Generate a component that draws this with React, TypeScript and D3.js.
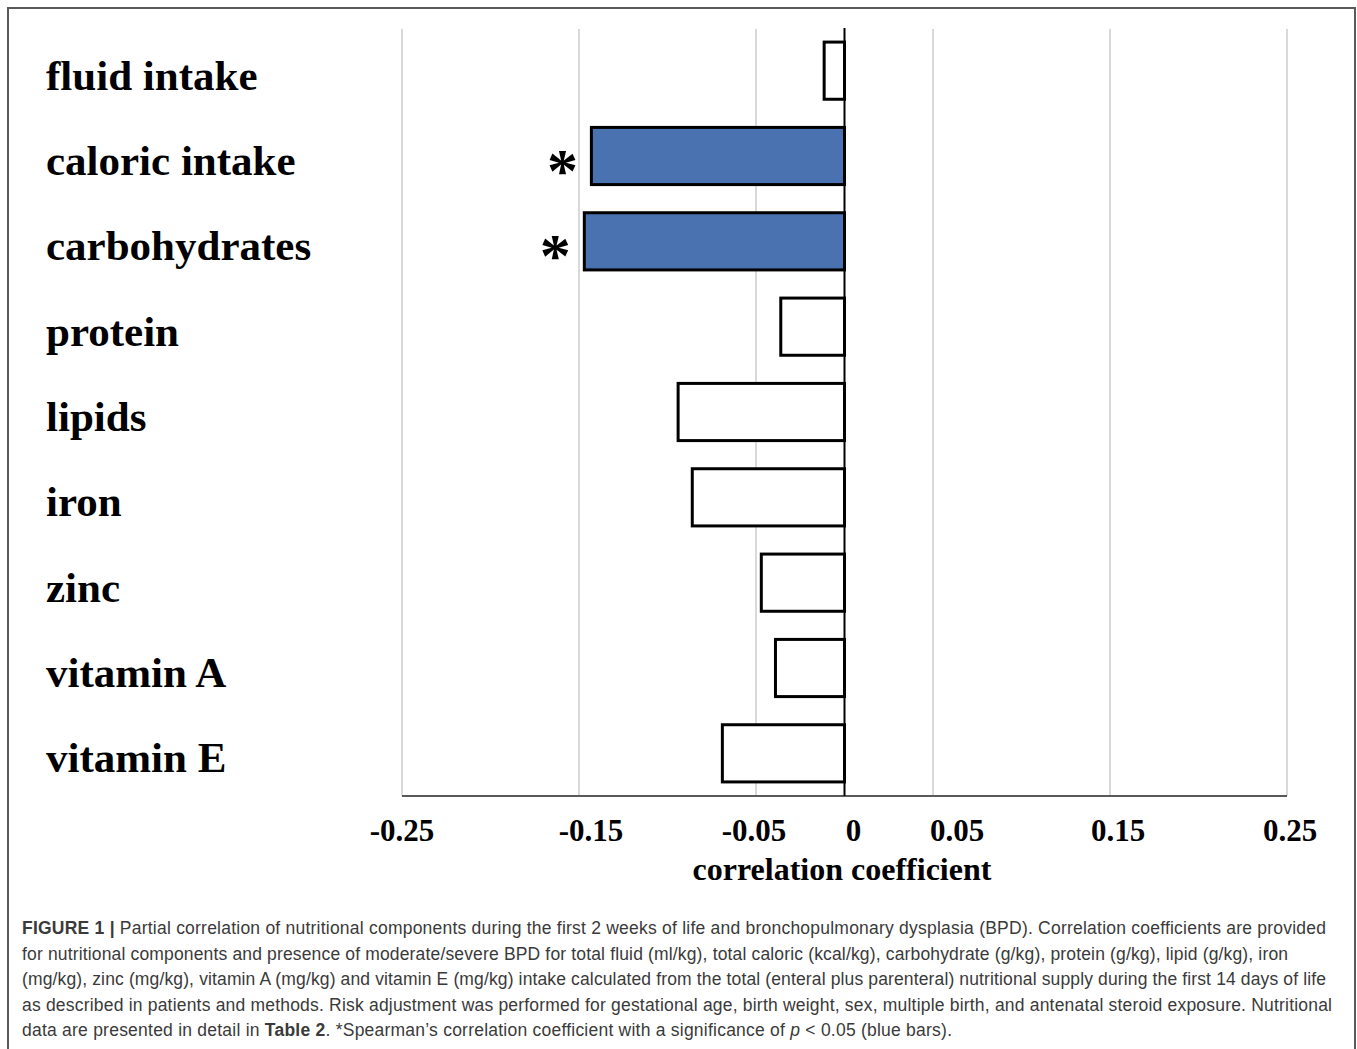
import React from "react";
import { scaleLinear, scaleBand } from "d3";

// chart data
const categories = [
  "fluid intake",
  "caloric intake",
  "carbohydrates",
  "protein",
  "lipids",
  "iron",
  "zinc",
  "vitamin A",
  "vitamin E",
];
const coefficients = [-0.0115, -0.143, -0.147, -0.036, -0.094, -0.086, -0.047, -0.039, -0.069];
const significant = [false, true, true, false, false, false, false, false, false];
const gridValues = [-0.25, -0.15, -0.05, 0.05, 0.15, 0.25];
const tickValues = [-0.25, -0.15, -0.05, 0, 0.05, 0.15, 0.25];
const tickLabels = ["-0.25", "-0.15", "-0.05", "0", "0.05", "0.15", "0.25"];
// the labels in the original figure sit a bit off their gridlines
const tickNudge = [0, 12, -2, 9, 24, 8, 3];
const axisTitle = "correlation coefficient";

type Seg = { t: string; b?: boolean; i?: boolean };
const captionLines: Seg[][] = [
  [
    { t: "FIGURE 1 | ", b: true },
    { t: "Partial correlation of nutritional components during the first 2 weeks of life and bronchopulmonary dysplasia (BPD). Correlation coefficients are provided" },
  ],
  [{ t: "for nutritional components and presence of moderate/severe BPD for total fluid (ml/kg), total caloric (kcal/kg), carbohydrate (g/kg), protein (g/kg), lipid (g/kg), iron" }],
  [{ t: "(mg/kg), zinc (mg/kg), vitamin A (mg/kg) and vitamin E (mg/kg) intake calculated from the total (enteral plus parenteral) nutritional supply during the first 14 days of life" }],
  [{ t: "as described in patients and methods. Risk adjustment was performed for gestational age, birth weight, sex, multiple birth, and antenatal steroid exposure. Nutritional" }],
  [
    { t: "data are presented in detail in " },
    { t: "Table 2", b: true },
    { t: ". *Spearman\u2019s correlation coefficient with a significance of " },
    { t: "p", i: true },
    { t: " < 0.05 (blue bars)." },
  ],
];
const captionWidths = [1304, 1266, 1304, 1310, 930];

const W = 1357;
const H = 1049;
const serif = "'Liberation Serif', 'Times New Roman', serif";
const sans = "'Liberation Sans', Arial, sans-serif";

function App() {
  const x = scaleLinear().domain([-0.25, 0.25]).range([402, 1287]);
  const y = scaleBand<string>().domain(categories).range([28, 796]).paddingInner(0.33).paddingOuter(0.165);
  const axisY = 796;

  return (
    <div style={{ position: "absolute", left: 0, top: 0 }}>
      <svg width={W} height={H} style={{ display: "block", background: "#fff" }}>
        <rect x={8} y={8} width={1347} height={H + 10} fill="none" stroke="#5a5a5a" strokeWidth={2} />

        {gridValues.map((v) => (
          <line key={v} x1={x(v)} x2={x(v)} y1={29} y2={axisY} stroke="#d9d9d9" strokeWidth={2} />
        ))}
        <line x1={x(-0.25)} x2={x(0.25)} y1={axisY} y2={axisY} stroke="#595959" strokeWidth={2} />

        {categories.map((c, i) => {
          const v = coefficients[i];
          const y0 = y(c) as number;
          return (
            <g key={c}>
              <rect
                x={x(Math.min(0, v))}
                y={y0}
                width={Math.abs(x(v) - x(0))}
                height={y.bandwidth()}
                fill={significant[i] ? "#4a71b0" : "#ffffff"}
                stroke="#000"
                strokeWidth={3}
              />
              <text
                x={46}
                y={y0 + y.bandwidth() / 2 + 19}
                fontFamily={serif}
                fontWeight="bold"
                fontSize={43}
                fill="#000"
              >
                {c}
              </text>
              {significant[i] && (
                <text
                  x={x(v) - 29}
                  y={y0 + y.bandwidth() / 2 + 35}
                  textAnchor="middle"
                  fontFamily={serif}
                  fontWeight="bold"
                  fontSize={62}
                  fill="#000"
                >
                  *
                </text>
              )}
            </g>
          );
        })}

        <line x1={x(0)} x2={x(0)} y1={28} y2={axisY} stroke="#000" strokeWidth={2} />

        {tickValues.map((v, i) => (
          <text
            key={v}
            x={x(v) + tickNudge[i]}
            y={841}
            textAnchor="middle"
            fontFamily={serif}
            fontWeight="bold"
            fontSize={31}
            fill="#000"
          >
            {tickLabels[i]}
          </text>
        ))}
        <text x={842} y={880} textAnchor="middle" fontFamily={serif} fontWeight="bold" fontSize={32} fill="#000">
          {axisTitle}
        </text>

        {captionLines.map((line, i) => (
          <text
            key={i}
            x={22}
            y={934 + i * 25.5}
            fontFamily={sans}
            fontSize={17.5}
            fill="#3a3a3a"
            textLength={captionWidths[i]}
            lengthAdjust="spacing"
          >
            {line.map((s, j) => (
              <tspan key={j} fontWeight={s.b ? "bold" : "normal"} fontStyle={s.i ? "italic" : "normal"}>
                {s.t}
              </tspan>
            ))}
          </text>
        ))}
      </svg>
    </div>
  );
}

export default App;
